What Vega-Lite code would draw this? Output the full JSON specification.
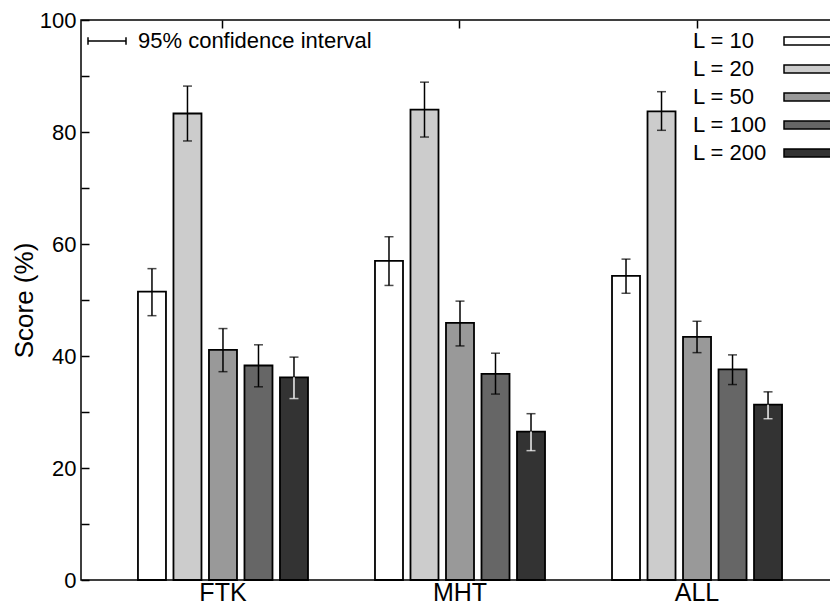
{
  "$schema": "https://vega.github.io/schema/vega-lite/v6.json",
  "width": 758,
  "height": 560,
  "autosize": {"type": "none"},
  "padding": {"left": 81, "top": 20, "right": 0, "bottom": 26},
  "background": "white",
  "config": {
    "font": "Liberation Sans",
    "view": {"stroke": "black", "strokeWidth": 1.5},
    "axis": {"grid": false, "domain": false, "labelColor": "black", "titleColor": "black", "tickColor": "black"},
    "legend": {"labelColor": "black", "padding": 0}
  },
  "data": {
    "values": [
      {"group": "FTK", "L": "L = 10", "value": 51.5, "low": 47.2, "high": 55.6},
      {"group": "FTK", "L": "L = 20", "value": 83.3, "low": 78.4, "high": 88.2},
      {"group": "FTK", "L": "L = 50", "value": 41.1, "low": 37.2, "high": 44.9},
      {"group": "FTK", "L": "L = 100", "value": 38.3, "low": 34.5, "high": 42.0},
      {"group": "FTK", "L": "L = 200", "value": 36.2, "low": 32.4, "high": 39.8},
      {"group": "MHT", "L": "L = 10", "value": 57.0, "low": 52.6, "high": 61.3},
      {"group": "MHT", "L": "L = 20", "value": 84.0, "low": 79.1, "high": 88.9},
      {"group": "MHT", "L": "L = 50", "value": 45.9, "low": 41.8, "high": 49.8},
      {"group": "MHT", "L": "L = 100", "value": 36.8, "low": 33.2, "high": 40.5},
      {"group": "MHT", "L": "L = 200", "value": 26.5, "low": 23.1, "high": 29.7},
      {"group": "ALL", "L": "L = 10", "value": 54.3, "low": 51.2, "high": 57.3},
      {"group": "ALL", "L": "L = 20", "value": 83.7, "low": 80.3, "high": 87.2},
      {"group": "ALL", "L": "L = 50", "value": 43.4, "low": 40.6, "high": 46.2},
      {"group": "ALL", "L": "L = 100", "value": 37.6, "low": 34.9, "high": 40.2},
      {"group": "ALL", "L": "L = 200", "value": 31.3, "low": 28.8, "high": 33.6}
    ]
  },
  "resolve": {"axis": {"x": "independent"}},
  "layer": [
    {
      "mark": {"type": "bar", "stroke": "black", "strokeWidth": 1.8},
      "encoding": {
        "x": {
          "field": "group", "type": "nominal", "sort": ["FTK", "MHT", "ALL"],
          "scale": {"paddingInner": 0.251, "paddingOuter": 0.2245},
          "axis": {"orient": "bottom", "title": null, "ticks": false, "labelAngle": 0, "labelFontSize": 25, "labelPadding": 0}
        },
        "xOffset": {
          "field": "L", "type": "nominal", "sort": ["L = 10", "L = 20", "L = 50", "L = 100", "L = 200"],
          "scale": {"paddingInner": 0.211, "paddingOuter": 0.1056}
        },
        "y": {
          "field": "value", "type": "quantitative", "title": "Score (%)",
          "scale": {"domain": [0, 100], "nice": false},
          "axis": {
            "values": [0, 10, 20, 30, 40, 50, 60, 70, 80, 90, 100],
            "labelExpr": "datum.value % 20 === 0 ? datum.label : ''",
            "tickSize": -8, "tickWidth": 1.5, "labelPadding": 13,
            "labelFontSize": 22, "titleFontSize": 26, "titleFontWeight": "normal", "titlePadding": 2
          }
        },
        "fill": {
          "field": "L", "type": "nominal", "sort": ["L = 10", "L = 20", "L = 50", "L = 100", "L = 200"],
          "scale": {"range": ["#ffffff", "#cccccc", "#999999", "#666666", "#333333"]},
          "legend": {
            "orient": "none", "legendX": 720, "legendY": 10, "title": null,
            "symbolType": "M-3.11,-0.444H3.11V0.444H-3.11Z", "symbolSize": 324,
            "symbolStrokeColor": "black", "symbolStrokeWidth": 1.5, "symbolOpacity": 1,
            "labelFontSize": 22, "labelAlign": "left", "labelOffset": -130,
            "rowPadding": 6, "labelLimit": 300
          }
        }
      }
    },
    {
      "mark": {"type": "rule", "strokeWidth": 1.5},
      "encoding": {
        "x": {"field": "group", "type": "nominal", "sort": ["FTK", "MHT", "ALL"],
              "axis": {"orient": "top", "title": null, "labels": false, "tickSize": -8, "tickWidth": 1.5}},
        "xOffset": {"field": "L", "type": "nominal", "sort": ["L = 10", "L = 20", "L = 50", "L = 100", "L = 200"]},
        "y": {"field": "low", "type": "quantitative"},
        "y2": {"field": "high"},
        "color": {
          "datum": "95% confidence interval",
          "scale": {"range": ["black"]},
          "legend": {
            "orient": "none", "legendX": 6, "legendY": 10, "title": null,
            "symbolType": "M-1,0H1M-1,-0.2V0.2M1,-0.2V0.2", "symbolSize": 1444,
            "symbolStrokeWidth": 1.5, "symbolStrokeColor": "black", "symbolFillColor": "transparent",
            "labelFontSize": 22, "labelOffset": 11, "clipHeight": 22, "labelLimit": 400
          }
        }
      }
    },
    {
      "transform": [{"filter": "datum.L === 'L = 200'"}],
      "mark": {"type": "rule", "strokeWidth": 1.5, "color": "white"},
      "encoding": {
        "x": {"field": "group", "type": "nominal", "sort": ["FTK", "MHT", "ALL"], "axis": null},
        "xOffset": {"field": "L", "type": "nominal", "sort": ["L = 10", "L = 20", "L = 50", "L = 100", "L = 200"]},
        "y": {"field": "low", "type": "quantitative"},
        "y2": {"field": "value"}
      }
    },
    {
      "mark": {"type": "tick", "thickness": 1.5, "size": 9, "color": "black"},
      "encoding": {
        "x": {"field": "group", "type": "nominal", "sort": ["FTK", "MHT", "ALL"], "axis": null},
        "xOffset": {"field": "L", "type": "nominal", "sort": ["L = 10", "L = 20", "L = 50", "L = 100", "L = 200"]},
        "y": {"field": "high", "type": "quantitative"}
      }
    },
    {
      "mark": {"type": "tick", "thickness": 1.5, "size": 9},
      "encoding": {
        "x": {"field": "group", "type": "nominal", "sort": ["FTK", "MHT", "ALL"], "axis": null},
        "xOffset": {"field": "L", "type": "nominal", "sort": ["L = 10", "L = 20", "L = 50", "L = 100", "L = 200"]},
        "y": {"field": "low", "type": "quantitative"},
        "color": {"condition": {"test": "datum.L === 'L = 200'", "value": "white"}, "value": "black"}
      }
    }
  ]
}
